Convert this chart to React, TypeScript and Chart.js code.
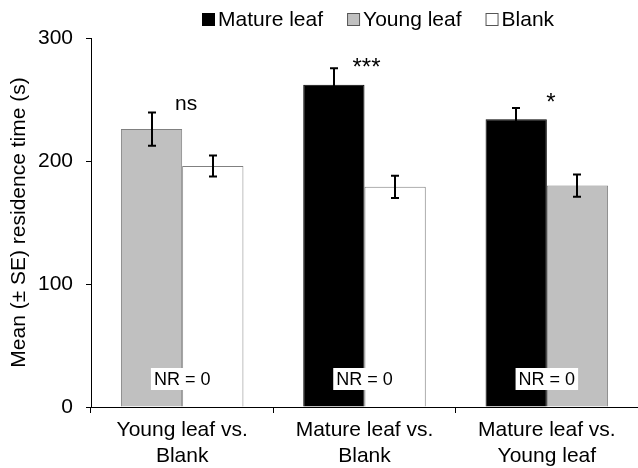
import React, { useEffect, useRef } from "react";
import { Chart, registerables } from "chart.js";

Chart.register(...registerables);

// ---- Data ----
const categories: string[][] = [
  ["Young leaf vs.", "Blank"],
  ["Mature leaf vs.", "Blank"],
  ["Mature leaf vs.", "Young leaf"],
];
const seriesLabels = ["Mature leaf", "Young leaf", "Blank"];
const matureValues = [null, 262, 234];
const youngValues = [226, null, 180];
const blankValues = [196, 179, null];
const matureErrors = [null, 13.5, 9];
const youngErrors = [13.5, null, 9];
const blankErrors = [8.5, 9, null];
const significance = ["ns", "***", "*"];
const nrLabels = ["NR = 0", "NR = 0", "NR = 0"];
const yTickMin = 0;
const yTickMax = 300;
const yTickStep = 100;
const yTitle = "Mean (\u00b1 SE) residence time (s)";

// ---- Styles ----
const FONT = "'Liberation Sans', Arial, sans-serif";
const fills = ["#000000", "#c0c0c0", "#ffffff"];
const borders = ["#000000", "#808080", "#808080"];
const sigOffsetX = [4, 2, 4];
const sigOffsetY = [-2, 7, 2];
const sigSize = [21, 24, 24];

const errorSets = [matureErrors, youngErrors, blankErrors];

const overlayPlugin = {
  id: "overlay",
  afterDatasetsDraw(chart: any) {
    const ctx = chart.ctx;
    const ys = chart.scales.y;
    const xs = chart.scales.x;
    ctx.save();
    // error bars
    ctx.strokeStyle = "#000";
    ctx.lineWidth = 2;
    const groupTop: number[] = [];
    chart.data.datasets.forEach((ds: any, di: number) => {
      const meta = chart.getDatasetMeta(di);
      meta.data.forEach((bar: any, i: number) => {
        const v = ds.data[i];
        const e = errorSets[di][i];
        if (v == null || e == null) return;
        const x = Math.round(bar.x);
        const yt = ys.getPixelForValue(v + e);
        const yb = ys.getPixelForValue(v - e);
        groupTop[i] = groupTop[i] == null ? yt : Math.min(groupTop[i], yt);
        ctx.beginPath();
        ctx.moveTo(x, yt);
        ctx.lineTo(x, yb);
        ctx.moveTo(x - 4, yt);
        ctx.lineTo(x + 4, yt);
        ctx.moveTo(x - 4, yb);
        ctx.lineTo(x + 4, yb);
        ctx.stroke();
      });
    });
    // significance labels
    ctx.fillStyle = "#000";
    ctx.textAlign = "center";
    ctx.textBaseline = "alphabetic";
    significance.forEach((s, i) => {
      ctx.font = `${sigSize[i]}px ${FONT}`;
      const cx = xs.getPixelForValue(i) + sigOffsetX[i];
      ctx.fillText(s, cx, groupTop[i] + sigOffsetY[i]);
    });
    // NR labels
    ctx.font = `18px ${FONT}`;
    ctx.textBaseline = "middle";
    const y0 = ys.getPixelForValue(0);
    nrLabels.forEach((s, i) => {
      const cx = xs.getPixelForValue(i);
      const w = ctx.measureText(s).width + 6;
      const cy = y0 - 28;
      ctx.fillStyle = "#fff";
      ctx.fillRect(cx - w / 2, cy - 11, w, 22);
      ctx.fillStyle = "#000";
      ctx.fillText(s, cx, cy + 1);
    });
    ctx.restore();
  },
  afterDraw(chart: any) {
    const ctx = chart.ctx;
    ctx.save();
    ctx.font = `21px ${FONT}`;
    ctx.textBaseline = "middle";
    ctx.textAlign = "left";
    const box = 12;
    const gapText = 4;
    const gapItem = 24;
    let x = 202;
    const cy = 19;
    seriesLabels.forEach((s, i) => {
      const w = ctx.measureText(s).width;
      ctx.fillStyle = fills[i];
      ctx.fillRect(x + 0.5, cy - box / 2 + 0.5, box, box);
      ctx.strokeStyle = i === 0 ? "#000" : "#555";
      ctx.lineWidth = 1;
      ctx.strokeRect(x + 0.5, cy - box / 2 + 0.5, box, box);
      ctx.fillStyle = "#000";
      ctx.fillText(s, x + box + gapText, cy + 1);
      x += box + gapText + w + gapItem;
    });
    ctx.restore();
  },
};

export default function App() {
  const ref = useRef<HTMLCanvasElement | null>(null);
  useEffect(() => {
    if (!ref.current) return;
    const seriesValues = [matureValues, youngValues, blankValues];
    const chart = new Chart(ref.current, {
      type: "bar",
      data: {
        labels: categories,
        datasets: seriesLabels.map((label, i) => ({
          label,
          data: seriesValues[i] as any,
          backgroundColor: fills[i],
          borderColor: borders[i],
          borderWidth: 1,
          skipNull: true,
          categoryPercentage: 0.672,
          barPercentage: 1.0,
        })),
      },
      options: {
        responsive: false,
        animation: false,
        devicePixelRatio: 1,
        layout: { padding: { top: 38, right: -2, bottom: 0, left: 0 } },
        plugins: {
          legend: { display: false },
          tooltip: { enabled: false },
        },
        scales: {
          x: {
            offset: true,
            grid: {
              display: true,
              offset: true,
              drawOnChartArea: false,
              drawTicks: true,
              tickLength: 6,
              color: "#000",
            },
            border: { display: true, color: "#000", width: 1 },
            ticks: {
              color: "#000",
              font: { family: FONT, size: 21, lineHeight: 1.2 },
              padding: 5,
              maxRotation: 0,
              autoSkip: false,
            },
            afterFit: (s: any) => {
              s.height = 61;
            },
          },
          y: {
            min: yTickMin,
            max: yTickMax,
            ticks: {
              stepSize: yTickStep,
              color: "#000",
              font: { family: FONT, size: 21 },
              padding: 13,
            },
            grid: {
              display: true,
              drawOnChartArea: false,
              drawTicks: true,
              tickLength: 5,
              color: "#000",
            },
            border: { display: true, color: "#000", width: 1 },
            title: {
              display: true,
              text: yTitle,
              color: "#000",
              font: { family: FONT, size: 21 },
              padding: { top: 7, bottom: 0 },
            },
            afterFit: (s: any) => {
              s.width = 91;
            },
          },
        },
      },
      plugins: [overlayPlugin],
    });
    return () => chart.destroy();
  }, []);
  return (
    <div style={{ position: "fixed", left: 0, top: 0, width: 638, height: 468, background: "#fff", overflow: "hidden" }}>
      <canvas ref={ref} width={638} height={468} />
    </div>
  );
}
